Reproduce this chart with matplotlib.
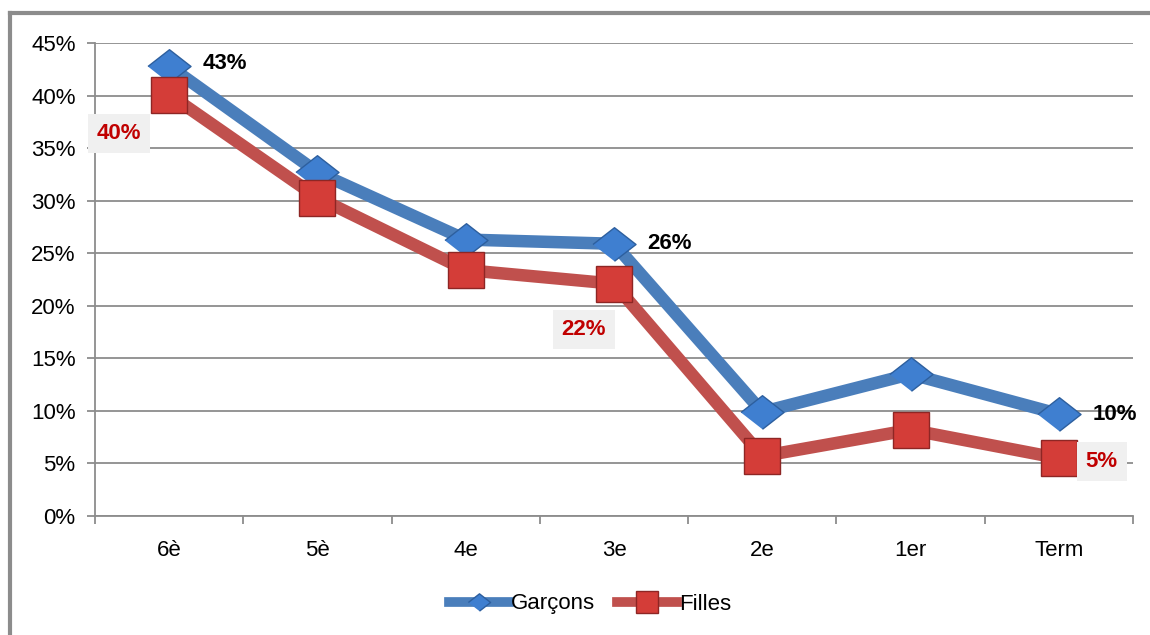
import matplotlib
matplotlib.use('Agg')
import matplotlib.pyplot as plt
from matplotlib.lines import Line2D
from matplotlib.ticker import FixedLocator, PercentFormatter

plt.rcParams['font.family'] = ['Liberation Sans', 'DejaVu Sans']

# data
classes = ['6è', '5è', '4e', '3e', '2e', '1er', 'Term']
garcons = [42.8, 32.7, 26.3, 25.9, 9.9, 13.5, 9.7]
filles = [40.1, 30.3, 23.4, 22.1, 5.7, 8.2, 5.5]
yticks = [0, 5, 10, 15, 20, 25, 30, 35, 40, 45]

# labels shown on the chart
garcons_labels = {0: '43%', 3: '26%', 6: '10%'}
filles_labels = {0: '40%', 3: '22%', 6: '5%'}

blue_line = '#4a7ebb'
blue_mark = '#3f7fd0'
red_line = '#c0504d'
red_mark = '#d43d38'
grid_col = '#8c8c8c'

fig = plt.figure(figsize=(11.5, 6.35), dpi=100)
ax = fig.add_axes([95 / 1150, 1 - 516 / 635, 1038 / 1150, 473 / 635])

x = list(range(len(classes)))
diamond = [(-1, 0), (0, 0.78), (1, 0), (0, -0.78)]

ax.plot(x, garcons, color=blue_line, lw=9, solid_joinstyle='miter',
        marker=diamond, ms=31, mfc=blue_mark, mec='#2d5f9e', mew=1, zorder=3)
ax.plot(x, filles, color=red_line, lw=9, solid_joinstyle='miter',
        marker='s', ms=26, mfc=red_mark, mec='#8e2624', mew=1, zorder=4)

ax.set_xlim(-0.5, len(classes) - 0.5)
ax.set_ylim(0, 45)
ax.yaxis.set_major_locator(FixedLocator(yticks))
ax.yaxis.set_major_formatter(PercentFormatter(decimals=0))
ax.grid(axis='y', color=grid_col, lw=1.3)
ax.set_axisbelow(True)

ax.set_xticks(x)
ax.set_xticklabels(classes)
ax.set_xticks([i - 0.5 for i in range(len(classes) + 1)], minor=True)
ax.tick_params(axis='x', which='major', length=0, pad=17, labelsize=16)
ax.tick_params(axis='x', which='minor', length=6, width=1.3, color=grid_col)
ax.tick_params(axis='y', length=6, width=1.3, color=grid_col, pad=8, labelsize=16)

for s in ['top', 'right']:
    ax.spines[s].set_visible(False)
for s in ['left', 'bottom']:
    ax.spines[s].set_color(grid_col)
    ax.spines[s].set_linewidth(1.3)

# data labels
offsets_g = {0: (56, 3), 3: (56, 0), 6: (56, 0)}
for i, txt in garcons_labels.items():
    ax.annotate(txt, (x[i], garcons[i]), textcoords='offset pixels',
                xytext=offsets_g[i], ha='center', va='center',
                fontsize=16, fontweight='bold', color='black', zorder=6)

offsets_f = {0: (-50, -39), 3: (-30, -46), 6: (43, -3)}
for i, txt in filles_labels.items():
    ax.annotate(txt, (x[i], filles[i]), textcoords='offset pixels',
                xytext=offsets_f[i], ha='center', va='center',
                fontsize=16, fontweight='bold', color='#c00000', zorder=6,
                bbox=dict(boxstyle='square,pad=0.4', fc='#f0f0f0', ec='none'))

# legend
handles = [
    Line2D([], [], color=blue_line, lw=7, marker=diamond, ms=16,
           mfc=blue_mark, mec='#2d5f9e'),
    Line2D([], [], color=red_line, lw=7, marker='s', ms=16,
           mfc=red_mark, mec='#8e2624'),
]
fig.legend(handles, ['Garçons', 'Filles'], loc='center',
           bbox_to_anchor=(590 / 1150, 1 - 604 / 635), ncol=2, frameon=False,
           fontsize=16, handlelength=2.7, handletextpad=0.1, columnspacing=1.0)

# outer frame lines (left and top)
fig.add_artist(Line2D([10 / 1150, 10 / 1150], [0, 1 - 13 / 635],
                      transform=fig.transFigure, color='#8c8c8c', lw=3))
fig.add_artist(Line2D([10 / 1150, 1], [1 - 13 / 635, 1 - 13 / 635],
                      transform=fig.transFigure, color='#8c8c8c', lw=3))

fig.savefig('out.png', dpi=100)
